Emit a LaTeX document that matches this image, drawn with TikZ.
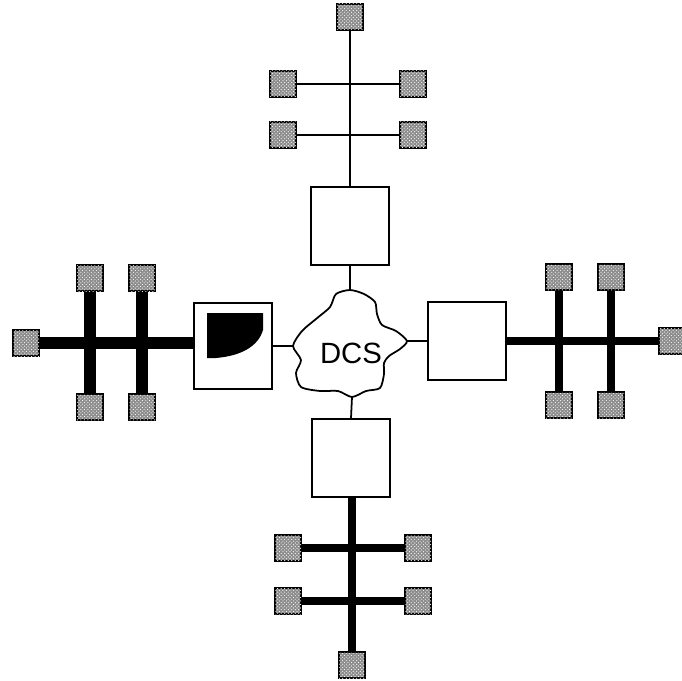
\documentclass[tikz,border=0pt]{standalone}
\usepackage{fontspec}
\setsansfont{Liberation Sans}
\usepackage{tikz}
\usetikzlibrary{patterns}

\tikzset{
  term/.style={draw=black, line width=1.3pt, fill=black!45,
    postaction={pattern=crosshatch dots, pattern color=white},
    minimum size=0.78cm, inner sep=0pt},
  unit/.style={draw=black, line width=1.5pt, fill=white,
    minimum width=2.34cm, minimum height=2.34cm, inner sep=0pt},
  thinbus/.style={line width=1.5pt},
  thickbus/.style={line width=11pt},
  midbus/.style={line width=6.5pt}
}

\begin{document}
\begin{tikzpicture}[x=0.03cm, y=-0.03cm]
    \useasboundingbox (0,0) rectangle (682,680);

    % Cloud
    \draw[line width=1.5pt] plot[smooth cycle, tension=0.45] coordinates {
      (350,290) (364,294) (375,302) (377,314) (382,325) (396,331) (407,341)
      (400,349) (389,356) (384,363) (384,374) (380,388) (366,391) (352,397)
      (338,391) (320,391) (301,387) (296,373) (301,360) (293,346) (302,331)
      (316,319) (330,307) (336,294)};
    \node[font=\sffamily\fontsize{25}{27}\selectfont] (dcs) at (351,353) {DCS};
    \coordinate (cn) at (350,290);
    \coordinate (cs) at (352,397);
    \coordinate (cw) at (293,346);
    \coordinate (ce) at (407,341);

    % Boxes
    \node[unit] (top) at (350,226) {};
    \node[unit, minimum height=2.6cm] (left) at (233,346) {};
    \node[unit] (right) at (467,341) {};
    \node[unit] (bot) at (351,458) {};
    \fill (207,313) -- (263,313) -- (263,330)
      .. controls (258,347) and (240,356) .. (216,358) -- (207,358) -- cycle;

    \draw[thinbus] (top.south) -- (cn);
    \draw[thinbus] (left.east) -- (cw);
    \draw[thinbus] (right.west) -- (ce);
    \draw[thinbus] (bot.north) -- (cs);

    % Top bus
    \node[term] (t0) at (350,17) {};
    \node[term] (t1a) at (283,84) {};
    \node[term] (t1b) at (413,84) {};
    \node[term] (t2a) at (283,135) {};
    \node[term] (t2b) at (413,135) {};
    \draw[thinbus] (t0.south) -- (top.north);
    \draw[thinbus] (t1a) -- (t1b);
    \draw[thinbus] (t2a) -- (t2b);

    % Left bus
    \node[term] (lw) at (26,343) {};
    \node[term] (l1n) at (90,278) {};
    \node[term] (l1s) at (90,407) {};
    \node[term] (l2n) at (142,278) {};
    \node[term] (l2s) at (142,407) {};
    \draw[thickbus] (lw) -- (lw -| left.west);
    \draw[thickbus] (l1n) -- (l1s);
    \draw[thickbus] (l2n) -- (l2s);

    % Right bus
    \node[term] (re) at (672,341) {};
    \node[term] (r1n) at (559,277) {};
    \node[term] (r1s) at (559,405) {};
    \node[term] (r2n) at (611,277) {};
    \node[term] (r2s) at (611,405) {};
    \draw[midbus] (right.east) -- (re);
    \draw[midbus] (r1n) -- (r1s);
    \draw[midbus] (r2n) -- (r2s);

    % Bottom bus
    \node[term] (b0) at (352,665) {};
    \node[term] (b1a) at (288,548) {};
    \node[term] (b1b) at (418,548) {};
    \node[term] (b2a) at (288,601) {};
    \node[term] (b2b) at (418,601) {};
    \draw[midbus] (b0 |- bot.south) -- (b0);
    \draw[midbus] (b1a) -- (b1b);
    \draw[midbus] (b2a) -- (b2b);
\end{tikzpicture}
\end{document}
